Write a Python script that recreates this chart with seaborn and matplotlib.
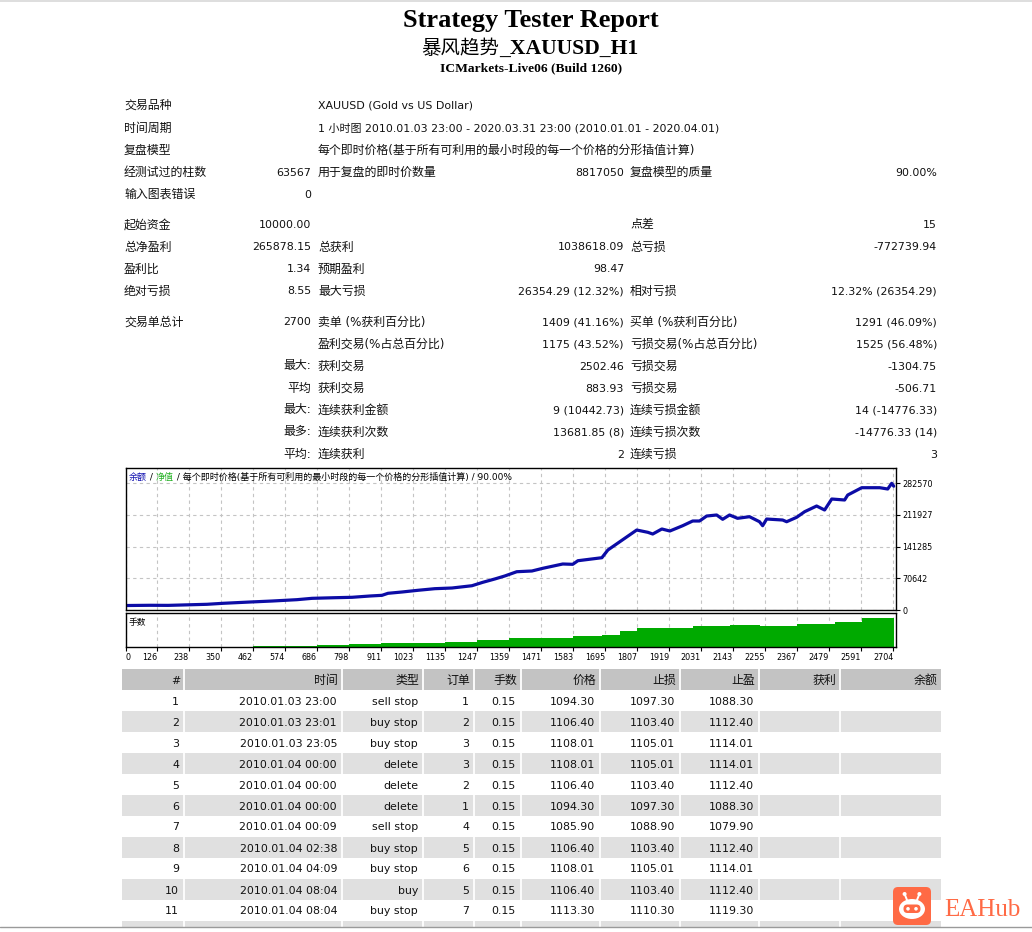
import matplotlib
matplotlib.use("Agg")
import matplotlib.pyplot as plt
import matplotlib.patches as mpatches
from matplotlib.lines import Line2D
import seaborn as sns
import pandas as pd

# ---- report header ----
report_title = "Strategy Tester Report"
ea_name = "暴风趋势"
ea_suffix = "_XAUUSD_H1"
server_build = "ICMarkets-Live06 (Build 1260)"

info_labels = ["交易品种", "时间周期", "复盘模型"]
info_values = [
    "XAUUSD (Gold vs US Dollar)",
    "1 小时图 2010.01.03 23:00 - 2020.03.31 23:00 (2010.01.01 - 2020.04.01)",
    "每个即时价格(基于所有可利用的最小时段的每一个价格的分形插值计算)",
]

# ---- summary grid (three label/value column pairs) ----
col1_labels = ["经测试过的柱数", "输入图表错误", "起始资金", "总净盈利", "盈利比", "绝对亏损",
               "交易单总计", "", "", "", "", "", ""]
col1_values = ["63567", "0", "10000.00", "265878.15", "1.34", "8.55",
               "2700", "", "最大:", "平均", "最大:", "最多:", "平均:"]
col2_labels = ["用于复盘的即时价数量", "", "", "总获利", "预期盈利", "最大亏损",
               "卖单 (%获利百分比)", "盈利交易(%占总百分比)", "获利交易", "获利交易",
               "连续获利金额", "连续获利次数", "连续获利"]
col2_values = ["8817050", "", "", "1038618.09", "98.47", "26354.29 (12.32%)",
               "1409 (41.16%)", "1175 (43.52%)", "2502.46", "883.93",
               "9 (10442.73)", "13681.85 (8)", "2"]
col3_labels = ["复盘模型的质量", "", "点差", "总亏损", "", "相对亏损",
               "买单 (%获利百分比)", "亏损交易(%占总百分比)", "亏损交易", "亏损交易",
               "连续亏损金额", "连续亏损次数", "连续亏损"]
col3_values = ["90.00%", "", "15", "-772739.94", "", "12.32% (26354.29)",
               "1291 (46.09%)", "1525 (56.48%)", "-1304.75", "-506.71",
               "14 (-14776.33)", "-14776.33 (14)", "3"]

# ---- balance curve (trade number vs balance) ----
trade_no = [0, 21, 102, 165, 301, 357, 452, 529, 616, 669,
            749, 809, 872, 914, 935, 984, 1040, 1099, 1159, 1229,
            1267, 1309, 1344, 1386, 1439, 1477, 1547, 1582, 1600, 1684,
            1705, 1747, 1806, 1845, 1862, 1894, 1922, 1967, 2002, 2026,
            2051, 2086, 2107, 2131, 2159, 2201, 2236, 2247, 2261, 2317,
            2331, 2366, 2394, 2436, 2464, 2489, 2534, 2545, 2594, 2657,
            2685, 2699, 2706]
balance = [10000, 10000, 10500, 10300, 12700, 14900, 17800, 20000, 23000, 26000,
           27400, 28300, 31200, 32700, 37200, 40100, 43900, 47500, 49000, 54100,
           61700, 69100, 75800, 85300, 86900, 92900, 102500, 101800, 109800, 116500,
           133700, 152200, 178200, 173100, 169300, 180500, 176000, 187800, 198300, 198300,
           209400, 211700, 202100, 211700, 204300, 207900, 196700, 187800, 202700, 200500,
           196700, 206500, 219000, 231700, 222800, 247300, 245100, 256200, 272500, 272500,
           269600, 282300, 275878]

lot_trade = [462, 686, 798, 910, 1134, 1246, 1358, 1467, 1582, 1684,
             1747, 1806, 1894, 2002, 2131, 2236, 2366, 2499, 2594, 2706]
lot_size = [0.2, 0.28, 0.42, 0.57, 0.7, 1.0, 1.27, 1.32, 1.55, 1.7,
            2.26, 2.7, 2.73, 3.0, 3.1, 2.97, 3.2, 3.5, 4.06, 4.2]

x_tick_labels = ["0", "126", "238", "350", "462", "574", "686", "798", "911", "1023",
                 "1135", "1247", "1359", "1471", "1583", "1695", "1807", "1919", "2031",
                 "2143", "2255", "2367", "2479", "2591", "2704"]
y_ticks = [0, 70642, 141285, 211927, 282570]
caption_parts = ["余额", " / ", "净值",
                 " / 每个即时价格(基于所有可利用的最小时段的每一个价格的分形插值计算) / 90.00%"]
caption_colors = ['#1010b0', 'black', '#22b022', 'black']

# ---- deals table ----
col_headers = ["#", "时间", "类型", "订单", "手数", "价格", "止损", "止盈", "获利", "余额"]
deal_no = [1, 2, 3, 4, 5, 6, 7, 8, 9, 10, 11, 12]
deal_time = ["2010.01.03 23:00", "2010.01.03 23:01", "2010.01.03 23:05", "2010.01.04 00:00",
             "2010.01.04 00:00", "2010.01.04 00:00", "2010.01.04 00:09", "2010.01.04 02:38",
             "2010.01.04 04:09", "2010.01.04 08:04", "2010.01.04 08:04", "2010.01.04 09:27"]
deal_type = ["sell stop", "buy stop", "buy stop", "delete", "delete", "delete",
             "sell stop", "buy stop", "buy stop", "buy", "buy stop", "buy"]
deal_order = [1, 2, 3, 3, 2, 1, 4, 5, 6, 5, 7, 6]
deal_lots = ["0.15", "0.15", "0.15", "0.15", "0.15", "0.15",
             "0.15", "0.15", "0.15", "0.15", "0.15", "0.15"]
deal_price = ["1094.30", "1106.40", "1108.01", "1108.01", "1106.40", "1094.30",
              "1085.90", "1106.40", "1108.01", "1106.40", "1113.30", "1108.01"]
deal_sl = ["1097.30", "1103.40", "1105.01", "1105.01", "1103.40", "1097.30",
           "1088.90", "1103.40", "1105.01", "1103.40", "1110.30", "1105.01"]
deal_tp = ["1088.30", "1112.40", "1114.01", "1114.01", "1112.40", "1088.30",
           "1079.90", "1112.40", "1114.01", "1112.40", "1119.30", "1114.01"]

deals = pd.DataFrame({
    "#": deal_no, "时间": deal_time, "类型": deal_type, "订单": deal_order,
    "手数": deal_lots, "价格": deal_price, "止损": deal_sl, "止盈": deal_tp,
    "获利": [""] * len(deal_no), "余额": [""] * len(deal_no),
})

sns.set_theme(style="white")
plt.rcParams['font.family'] = ['DejaVu Sans', 'Noto Sans CJK SC']

W, H = 1032, 932
fig = plt.figure(figsize=(W / 100, H / 100), dpi=100)
fig.patch.set_facecolor('white')


def fx(px):
    return px / W


def fy(py):
    return 1 - py / H


def put(px, py, s, ha='left'):
    if not s:
        return
    # mostly-CJK strings a touch bigger so they run as wide as the original
    cjk = sum(ord(c) > 0x2E80 for c in s)
    size = 8.6 if cjk * 2 >= len(s) else 7.9
    fig.text(fx(px), fy(py + 4.5), s, ha=ha, va='baseline', fontsize=size, color='#111111')


# window borders
fig.add_artist(Line2D([0, 1], [fy(1), fy(1)], color='#d8d8d8', lw=1.2))
fig.add_artist(Line2D([0, 1], [fy(927), fy(927)], color='#9a9a9a', lw=1.0))

# titles
fig.text(fx(531), fy(27.5), report_title, ha='center', va='baseline',
         family='Liberation Serif', weight='bold', fontsize=19, color='black')
fig.text(fx(499), fy(53.5), ea_name, ha='right', va='baseline',
         family='Noto Sans CJK SC', fontsize=14, color='black')
fig.text(fx(499), fy(53.5), ea_suffix, ha='left', va='baseline',
         family='Liberation Serif', weight='bold', fontsize=15.6, color='black')
fig.text(fx(531), fy(70.8), server_build, ha='center', va='baseline',
         family='Liberation Serif', weight='bold', fontsize=9.7, color='black')

# info rows
info_y = [104, 127, 149]
for y, lab, val in zip(info_y, info_labels, info_values):
    put(124, y, lab)
    put(318, y, val)

grid_y = [171, 193, 224, 246, 268, 290, 321, 343, 365, 387, 409, 431, 453]
for i, y in enumerate(grid_y):
    put(124, y, col1_labels[i])
    put(311, y, col1_values[i], ha='right')
    put(318, y, col2_labels[i])
    put(624, y, col2_values[i], ha='right')
    put(630, y, col3_labels[i])
    put(937, y, col3_values[i], ha='right')

# ---- chart ----
x_lo, x_hi = 17.5, 2714
tick_pos = [x_lo] + [int(s) for s in x_tick_labels[1:]]
grid_kw = dict(color='#c4c4c4', linestyle=(0, (3, 3)), linewidth=0.8)

ax_eq = fig.add_axes([fx(126), fy(610), 770 / W, 142 / H])
sns.lineplot(x=trade_no, y=balance, ax=ax_eq, color='#0c0ca6', linewidth=2.3)
ax_eq.set_xlim(x_lo, x_hi)
ax_eq.set_ylim(0, 316400)
ax_eq.set_xticks(tick_pos)
ax_eq.set_yticks(y_ticks)
ax_eq.set_yticklabels([str(v) for v in y_ticks])
ax_eq.yaxis.tick_right()
ax_eq.tick_params(axis='x', length=0, labelbottom=False)
ax_eq.tick_params(axis='y', length=3, width=0.8, pad=1.5, labelsize=5.8,
                  colors='black', right=True, left=False)
ax_eq.grid(True, **grid_kw)
ax_eq.set_xlabel('')
ax_eq.set_ylabel('')
for sp in ax_eq.spines.values():
    sp.set_color('black')
    sp.set_linewidth(1)

ax_lot = fig.add_axes([fx(126), fy(647), 770 / W, 34 / H])
ax_lot.fill_between(lot_trade, lot_size, step='post', color='#00aa00', linewidth=0, zorder=2)
ax_lot.set_xlim(x_lo, x_hi)
ax_lot.set_ylim(0, 4.8)
ax_lot.set_yticks([])
ax_lot.set_xticks(tick_pos)
ax_lot.set_xticklabels(x_tick_labels)
ax_lot.tick_params(axis='x', length=3, width=0.8, pad=1, labelsize=5.8, colors='black', bottom=True)
for i, lab in enumerate(ax_lot.get_xticklabels()):
    lab.set_ha('left' if i == 0 else 'right')
ax_lot.grid(True, axis='x', **grid_kw)
for sp in ax_lot.spines.values():
    sp.set_color('black')
    sp.set_linewidth(1)
ax_lot.text(0.003, 0.72, "手数", transform=ax_lot.transAxes, fontsize=6.3,
            family='Noto Sans CJK SC', color='black', va='center')

# chart caption with coloured series names, each piece placed after the previous one
prev = fig.text(fx(129), fy(482), caption_parts[0], fontsize=6.5,
                color=caption_colors[0], va='bottom', ha='left')
for piece, colour in zip(caption_parts[1:], caption_colors[1:]):
    prev = ax_eq.annotate(piece, xy=(1, 0), xycoords=prev, va='bottom', ha='left',
                          fontsize=6.5, color=colour, annotation_clip=False)

# ---- deals table ----
ax_tb = fig.add_axes([fx(122), fy(926.5), (941 - 122) / W, (926.5 - 668.5) / H])
ax_tb.set_xlim(122, 941)
ax_tb.set_ylim((926.5 - 679) / 21, -0.5)
ax_tb.axis('off')
col_right = [184, 342, 423, 474, 521, 600, 680, 759, 840, 941]

ax_tb.axhspan(-0.5, 0.5, color='#c3c3c3', lw=0)
for r in deals.index:
    row = r + 1
    if row % 2 == 0:
        ax_tb.axhspan(row - 0.5, row + 0.5, color='#e0e0e0', lw=0)
for xr in col_right[:-1]:
    ax_tb.axvline(xr, color='white', lw=1.3)

off = 4.5 / 21
for c, name in enumerate(col_headers):
    ax_tb.text(col_right[c] - 4, 0 + off, name, ha='right', va='baseline',
               fontsize=8.6 if name != "#" else 7.9, color='#111111', clip_on=True)
for r, rec in deals.iterrows():
    row = r + 1
    for c, name in enumerate(col_headers):
        val = str(rec[name])
        if val:
            ax_tb.text(col_right[c] - 5, row + off, val, ha='right', va='baseline',
                       fontsize=7.9, color='#111111', clip_on=True)

# ---- EAHub logo ----
orange = '#ff6a45'
ax_logo = fig.add_axes([fx(893), fy(925), 38 / W, 38 / H])
ax_logo.set_xlim(0, 38)
ax_logo.set_ylim(0, 38)
ax_logo.axis('off')
ax_logo.add_patch(mpatches.FancyBboxPatch((0, 0), 38, 38, boxstyle='round,pad=0,rounding_size=5',
                                          fc=orange, ec='none'))
ax_logo.add_patch(mpatches.Ellipse((19, 16), 26, 20, fc='white', ec='none'))
ax_logo.add_patch(mpatches.FancyBboxPatch((10.5, 12), 17, 8.5, boxstyle='round,pad=0,rounding_size=4',
                                          fc=orange, ec='none'))
ax_logo.add_patch(mpatches.Circle((15, 16.2), 1.8, fc='white', ec='none'))
ax_logo.add_patch(mpatches.Circle((23, 16.2), 1.8, fc='white', ec='none'))
ax_logo.plot([14, 12], [25, 30], color='white', lw=1.4)
ax_logo.plot([24, 26], [25, 30], color='white', lw=1.4)
ax_logo.add_patch(mpatches.Circle((11.6, 31), 2.0, fc='white', ec='none'))
ax_logo.add_patch(mpatches.Circle((26.4, 31), 2.0, fc='white', ec='none'))
fig.text(fx(944), fy(916), "EAHub", family='Liberation Serif', fontsize=18, color=orange,
         va='baseline', ha='left')

fig.savefig("out.png", dpi=100)
